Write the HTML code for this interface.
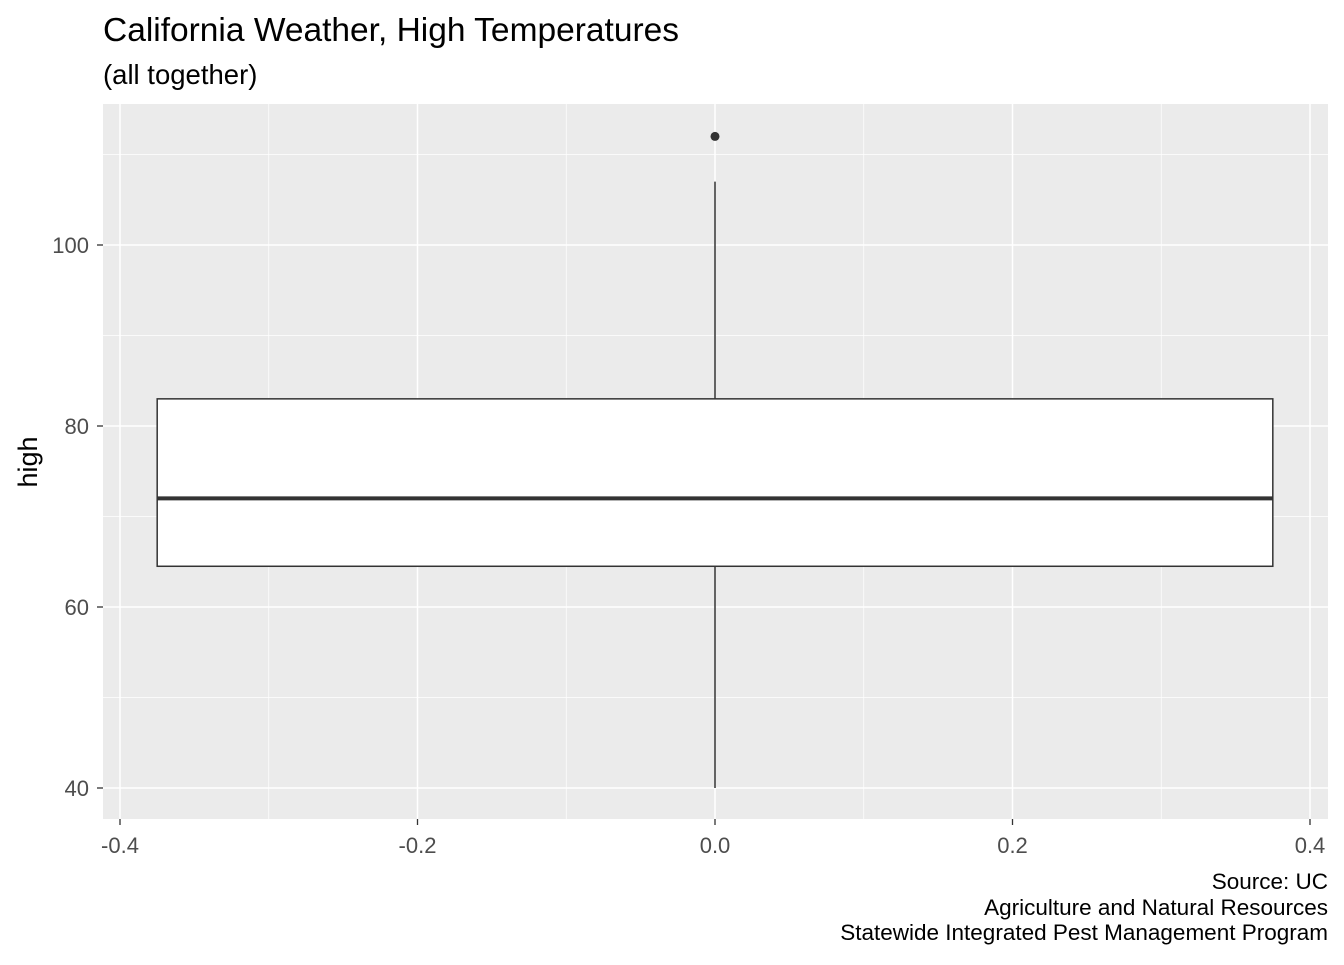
<!DOCTYPE html>
<html><head><meta charset="utf-8"><style>
body{margin:0;background:#fff;}
svg text{font-family:"Liberation Sans",Arial,sans-serif;}
</style></head><body>
<svg id="chart" width="1344" height="960" xmlns="http://www.w3.org/2000/svg">
<text x="103" y="41" style="font-size:33.5px" fill="#000">California Weather, High Temperatures</text>
<text x="103" y="84" style="font-size:27.5px" fill="#000">(all together)</text>
<rect x="103" y="104" width="1225" height="715" fill="#EBEBEB"/>
<g id="grid"></g>
<g id="marks"></g>
<g id="axes"></g>
<text transform="translate(37,462) rotate(-90)" text-anchor="middle" style="font-size:27px" fill="#000">high</text>
<text x="1328" y="889" text-anchor="end" style="font-size:22.5px" fill="#000">Source: UC</text>
<text x="1328" y="915" text-anchor="end" style="font-size:22.5px" fill="#000">Agriculture and Natural Resources</text>
<text x="1328" y="940" text-anchor="end" style="font-size:22.5px" fill="#000">Statewide Integrated Pest Management Program</text>
</svg>
<script>
const xTicks=[-0.4,-0.2,0.0,0.2,0.4];
const xTickLabels=["-0.4","-0.2","0.0","0.2","0.4"];
const xMinor=[-0.3,-0.1,0.1,0.3];
const yTicks=[40,60,80,100];
const yMinor=[50,70,90,110];
const boxStats=[64.5,72,83];
const whiskers=[40,107];
const outliers=[112];
const boxHalfWidth=0.375;

const X=v=>715+v*1487.5;
const Y=v=>788-(v-40)*9.05;
const NS="http://www.w3.org/2000/svg";
function mk(tag,attrs,parent){const e=document.createElementNS(NS,tag);for(const k in attrs)e.setAttribute(k,attrs[k]);document.getElementById(parent).appendChild(e);return e;}

xMinor.forEach(v=>{const e=mk('line',{x1:X(v),x2:X(v),y1:104,y2:819,stroke:'#fff','stroke-width':0.7},'grid');

});
yMinor.forEach(v=>{const e=mk('line',{x1:103,x2:1328,y1:Y(v),y2:Y(v),stroke:'#fff','stroke-width':0.7},'grid');

});
xTicks.forEach((v,i)=>{const e=mk('line',{x1:X(v),x2:X(v),y1:104,y2:819,stroke:'#fff','stroke-width':1.5},'grid');


const t=mk('line',{x1:X(v),x2:X(v),y1:819,y2:825,stroke:'#333','stroke-width':1.3},'axes');


const l=mk('text',{x:X(v),y:853,'text-anchor':'middle',style:'font-size:22px',fill:'#4D4D4D'},'axes');l.textContent=xTickLabels[i];

});
yTicks.forEach(v=>{const e=mk('line',{x1:103,x2:1328,y1:Y(v),y2:Y(v),stroke:'#fff','stroke-width':1.5},'grid');


const t=mk('line',{x1:97,x2:103,y1:Y(v),y2:Y(v),stroke:'#333','stroke-width':1.3},'axes');


const l=mk('text',{x:89,y:Y(v)+8,'text-anchor':'end',style:'font-size:22px',fill:'#4D4D4D'},'axes');l.textContent=String(v);

});

const w1=mk('line',{x1:X(0),x2:X(0),y1:Y(whiskers[0]),y2:Y(boxStats[0]),stroke:'#333','stroke-width':1.5},'marks');


const w2=mk('line',{x1:X(0),x2:X(0),y1:Y(boxStats[2]),y2:Y(whiskers[1]),stroke:'#333','stroke-width':1.5},'marks');


const b=mk('rect',{x:X(-boxHalfWidth),y:Y(boxStats[2]),width:X(boxHalfWidth)-X(-boxHalfWidth),height:Y(boxStats[0])-Y(boxStats[2]),fill:'#fff',stroke:'#333','stroke-width':1.5},'marks');


const m=mk('line',{x1:X(-boxHalfWidth),x2:X(boxHalfWidth),y1:Y(boxStats[1]),y2:Y(boxStats[1]),stroke:'#333','stroke-width':4},'marks');


outliers.forEach(v=>{const c=mk('circle',{cx:X(0),cy:Y(v),r:4.5,fill:'#333'},'marks');

});
</script>
</body></html>
